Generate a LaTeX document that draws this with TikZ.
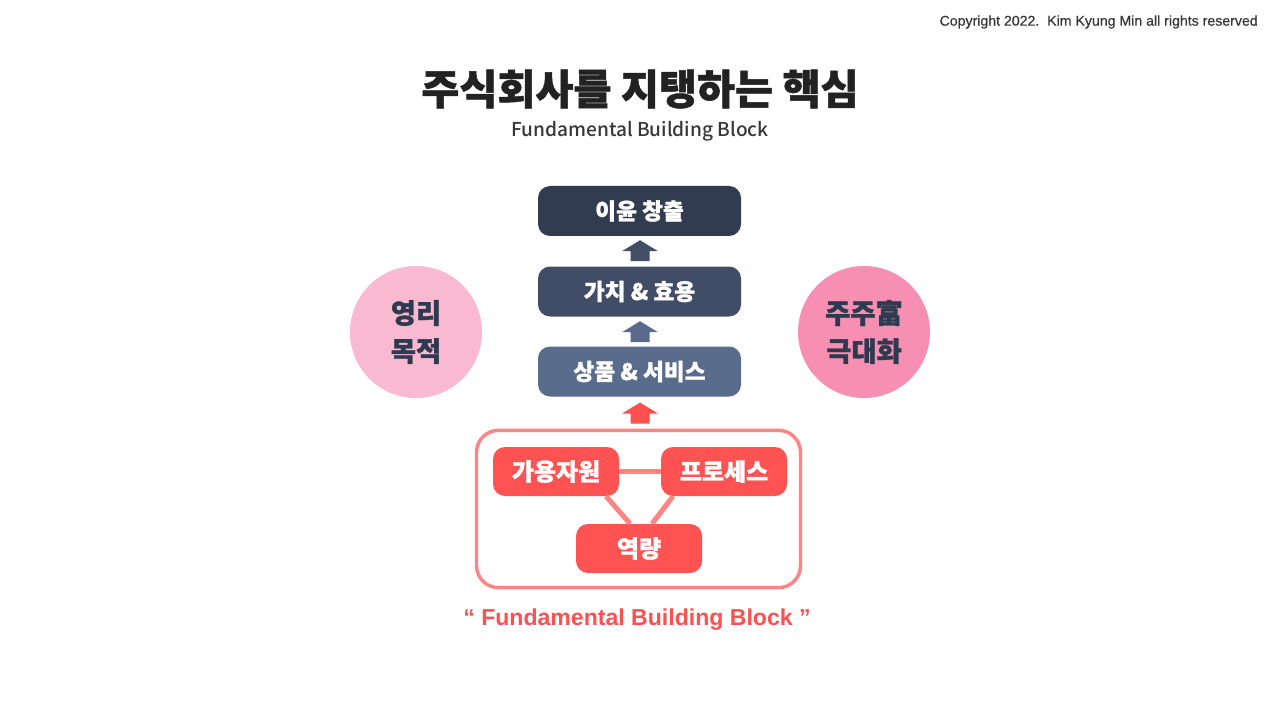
\documentclass[tikz,border=0pt]{standalone}
\usepackage{fontspec}
\usetikzlibrary{calc}
\newfontfamily\krfont{Noto Sans CJK KR Medium}
\newfontfamily\krbold[FakeBold=1.2]{Noto Sans CJK KR Black}
\newfontfamily\arialfont{Liberation Sans}
\newfontfamily\arialsemi[FakeBold=0.6]{Liberation Sans}
\definecolor{navyA}{HTML}{323C50}
\definecolor{navyB}{HTML}{414D66}
\definecolor{navyC}{HTML}{5A6C8B}
\definecolor{arrA}{HTML}{424E66}
\definecolor{arrB}{HTML}{5A6A8A}
\definecolor{redbox}{HTML}{FF5252}
\definecolor{redline}{HTML}{FF8585}
\definecolor{redtext}{HTML}{FF5050}
\definecolor{pinkL}{HTML}{F9B9D0}
\definecolor{pinkR}{HTML}{F78FB2}
\definecolor{circtext}{HTML}{2E3A4F}
\definecolor{titlecol}{HTML}{222222}
\tikzset{
  topbox/.style={rounded corners=9pt, minimum width=152.25pt, minimum height=37.5pt, inner sep=0pt, text=white, font=\krbold\fontsize{17}{19}\selectfont},
  redbx/.style={rounded corners=9pt, fill=redbox, minimum width=94.5pt, minimum height=36.75pt, inner sep=0pt, text=white, font=\krbold\fontsize{18}{20}\selectfont},
  circ/.style={circle, minimum size=99pt, inner sep=0pt, text=circtext, align=center, font=\krbold\fontsize{20.5}{28.5}\selectfont},
  link/.style={redline, line width=3.75pt},
}
\begin{document}
\begin{tikzpicture}[x=0.75pt,y=-0.75pt]
\useasboundingbox[fill=white] (0,0) rectangle (1280,720);
% copyright
\node[anchor=east, inner sep=0pt, text=black!78, font=\arialsemi\fontsize{10.6}{12}\selectfont] (copy) at (1258,22) {Copyright 2022.\ \ Kim Kyung Min all rights reserved};
% title
\node[text=titlecol, font=\krbold\fontsize{31}{35}\selectfont] (title) at (640,89) {주식회사를 지탱하는 핵심};
\node[text=black!78, font=\krfont\fontsize{14.3}{17}\selectfont] (sub) at (640,131.5) {Fundamental Building Block};
% stack
\node[topbox, fill=navyA] (b1) at (639.5,211) {이윤 창출};
\node[topbox, fill=navyB] (b2) at (639.5,291.5) {가치 \& 효용};
\node[topbox, fill=navyC] (b3) at (639.5,371.5) {상품 \& 서비스};
% circles
\node[circ, fill=pinkL] (cl) at (416,332) {영리\\목적};
\node[circ, fill=pinkR] (cr) at (864,332) {주주富\\극대화};
% big box
\node[draw=redline, line width=2.6pt, rounded corners=16.5pt, minimum width=243pt, minimum height=118pt] (fbb) at (638.5,509) {};
\node[redbx] (r1) at (556,471.5) {가용자원};
\node[redbx] (r2) at (724,471.5) {프로세스};
\node[redbx] (r3) at (639,548.5) {역량};
\draw[link] (r1.east) -- (r2.west);
\draw[link] ($(r1.south)+(50,0)$) -- ($(r3.north)+(-9,0)$);
\draw[link] ($(r2.south)+(-51,0)$) -- ($(r3.north)+(13,0)$);
% arrows
\fill[arrA] ($(b2.north)+(0.5,-5)$) ++(-9.5,0) -- ++(0,-10) -- ++(-8.5,0) -- ++(18,-11) -- ++(18,11) -- ++(-8.5,0) -- ++(0,10) -- cycle;
\fill[arrB] ($(b3.north)+(0.5,-4)$) ++(-9.5,0) -- ++(0,-10) -- ++(-8.5,0) -- ++(18,-11) -- ++(18,11) -- ++(-8.5,0) -- ++(0,10) -- cycle;
\fill[redtext] ($(fbb.north)+(1.5,-5)$) ++(-9.5,0) -- ++(0,-10) -- ++(-8.5,0) -- ++(18,-11) -- ++(18,11) -- ++(-8.5,0) -- ++(0,10) -- cycle;
% quote
\node[text=redtext, font=\arialfont\bfseries\fontsize{17.3}{20}\selectfont] (quote) at (637,620) {“ Fundamental Building Block ”};
\end{tikzpicture}
\end{document}
